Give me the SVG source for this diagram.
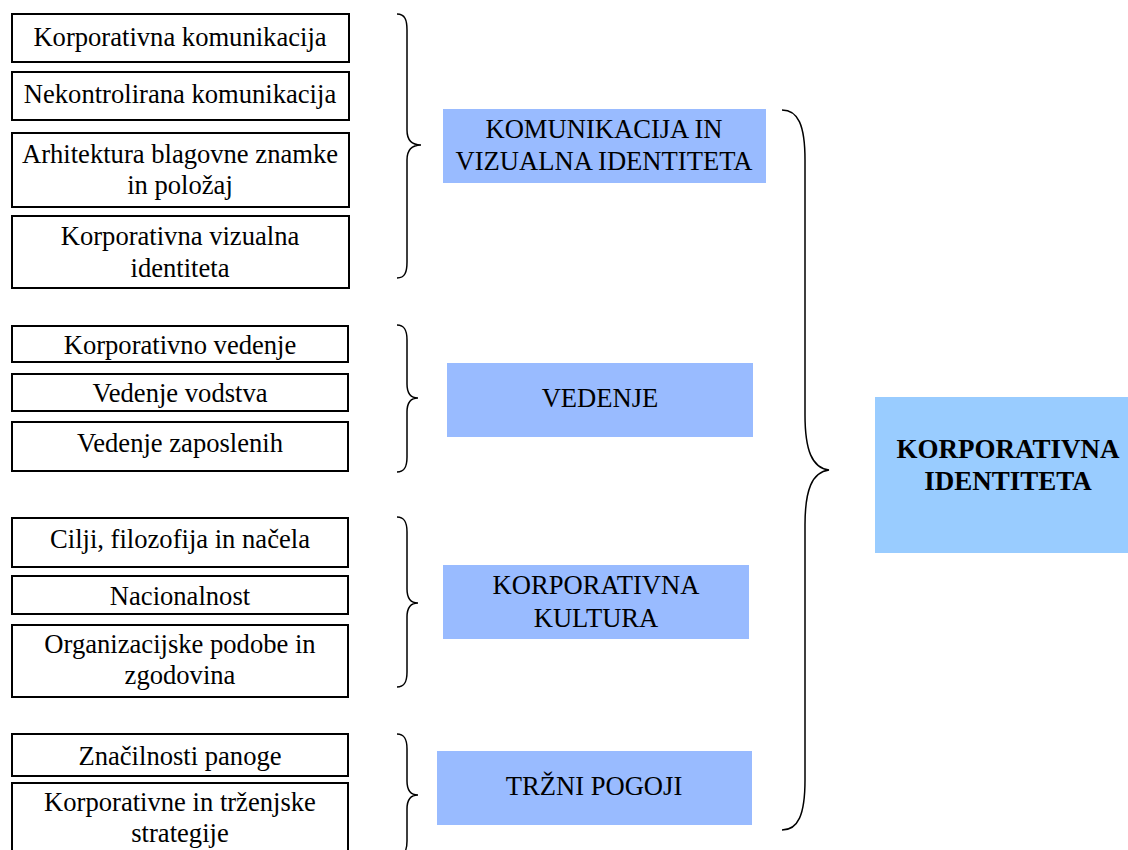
<svg xmlns="http://www.w3.org/2000/svg" width="1128" height="850" viewBox="0 0 1128 850">
<style>
.item{fill:#fff;stroke:#000;stroke-width:2}
.cat{fill:#99bbff}
.main{fill:#99ccff}
text{font-family:"Liberation Serif","Times New Roman",serif;font-size:26.6px;fill:#000;text-anchor:middle}
.b{font-weight:bold;font-size:27px}
.brace{fill:none;stroke:#000;stroke-width:1.5}
</style>
<rect width="1128" height="850" fill="#fff"/>
<g id="n1"><rect class="item" x="12" y="14" width="337" height="48"/><text x="180" y="46">Korporativna komunikacija</text></g>
<g id="n2"><rect class="item" x="12" y="72" width="337" height="48"/><text x="180" y="103">Nekontrolirana komunikacija</text></g>
<g id="n3"><rect class="item" x="12" y="133" width="337" height="74"/><text x="180" y="163">Arhitektura blagovne znamke</text><text x="180" y="194">in položaj</text></g>
<g id="n4"><rect class="item" x="12" y="216" width="337" height="72"/><text x="180" y="245">Korporativna vizualna</text><text x="180" y="277">identiteta</text></g>
<g id="n5"><rect class="item" x="12" y="326" width="336" height="36"/><text x="180" y="354">Korporativno vedenje</text></g>
<g id="n6"><rect class="item" x="12" y="374" width="336" height="37"/><text x="180" y="402">Vedenje vodstva</text></g>
<g id="n7"><rect class="item" x="12" y="422" width="336" height="49"/><text x="180" y="452">Vedenje zaposlenih</text></g>
<g id="n8"><rect class="item" x="12" y="518" width="336" height="49"/><text x="180" y="548">Cilji, filozofija in načela</text></g>
<g id="n9"><rect class="item" x="12" y="576" width="336" height="38"/><text x="180" y="605">Nacionalnost</text></g>
<g id="n10"><rect class="item" x="12" y="625" width="336" height="72"/><text x="180" y="653">Organizacijske podobe in</text><text x="180" y="684">zgodovina</text></g>
<g id="n11"><rect class="item" x="12" y="734" width="336" height="42"/><text x="180" y="765">Značilnosti panoge</text></g>
<g id="n12"><rect class="item" x="12" y="783" width="336" height="80"/><text x="180" y="811">Korporativne in trženjske</text><text x="180" y="842">strategije</text></g>
<g id="c1"><rect class="cat" x="443" y="109" width="323" height="74"/><text x="604" y="138">KOMUNIKACIJA IN</text><text x="604" y="170">VIZUALNA IDENTITETA</text></g>
<g id="c2"><rect class="cat" x="447" y="363" width="306" height="74"/><text x="600" y="407">VEDENJE</text></g>
<g id="c3"><rect class="cat" x="443" y="565" width="306" height="74"/><text x="596" y="594">KORPORATIVNA</text><text x="596" y="627">KULTURA</text></g>
<g id="c4"><rect class="cat" x="437" y="751" width="315" height="74"/><text x="594" y="795">TRŽNI POGOJI</text></g>
<g id="main"><rect class="main" x="875" y="397" width="260" height="156"/><text class="b" x="1008" y="458">KORPORATIVNA</text><text class="b" x="1008" y="490">IDENTITETA</text></g>
<g id="connectors">
<path class="brace" d="M397,14 C405,14 407,20 407,30 L407,130 C407,140 412,145 421,145 C412,145 407,150 407,160 L407,262 C407,272 405,278 397,278"/>
<path class="brace" d="M397,325 C405,325 407,331 407,340 L407,384 C407,393 411,398 418,398 C411,398 407,403 407,412 L407,457 C407,466 405,472 397,472"/>
<path class="brace" d="M397,517 C405,517 407,523 407,532 L407,589 C407,598 411,603 418,603 C411,603 407,608 407,617 L407,672 C407,681 405,687 397,687"/>
<path class="brace" d="M397,734 C405,734 407,740 407,749 L407,781 C407,790 411,795 418,795 C411,795 407,800 407,809 L407,841 C407,850 405,856 397,856"/>
<path class="brace" d="M782,110 C798,110 805,125 805,160 L805,415 C805,450 812,468 829,470 C812,472 805,490 805,525 L805,780 C805,815 798,830 782,830"/>
</g>
</svg>
